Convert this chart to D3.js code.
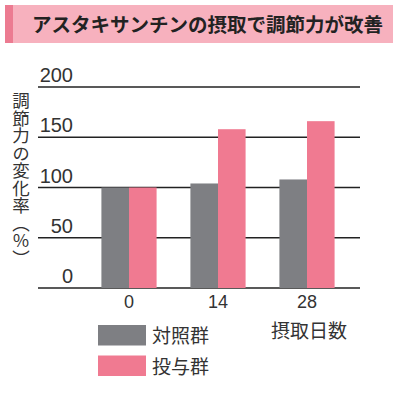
<!DOCTYPE html>
<html>
<head>
<meta charset="utf-8">
<script src="https://cdn.jsdelivr.net/npm/d3@7"></script>
<style>
  body { margin: 0; background: #fff; }
  svg { display: block; }
</style>
</head>
<body>
<svg id="chart"></svg>
<script>
const days = ["0", "14", "28"];
const controlValues = [100, 104, 108];
const treatedValues = [100, 158, 166];
const yTicks = [0, 50, 100, 150, 200];
const seriesNames = ["対照群", "投与群"];
const colors = ["#7e7f83", "#f07a91"];

const svg = d3.select("#chart")
  .attr("width", 400)
  .attr("height", 398);

const font = "'Liberation Sans', 'Noto Sans CJK JP', sans-serif";

// title band
svg.append("rect")
  .attr("x", 5).attr("y", 5)
  .attr("width", 388).attr("height", 38)
  .attr("fill", "#f7b1be");
svg.append("rect")
  .attr("x", 5).attr("y", 5)
  .attr("width", 8).attr("height", 38)
  .attr("fill", "#ec7b91");
svg.append("text")
  .attr("x", 32).attr("y", 32)
  .attr("font-family", "'Noto Sans CJK JP', sans-serif")
  .attr("font-weight", "bold")
  .attr("font-size", "19.5px")
  .attr("fill", "#222")
  .text("アスタキサンチンの摂取で調節力が改善");

const left = 38, right = 360;

const y = d3.scaleLinear()
  .domain([0, 200])
  .range([288, 87]);

const x = d3.scaleBand()
  .domain(days)
  .range([84.5, 351.5])
  .paddingInner(0.38)
  .paddingOuter(0.19);

const sub = d3.scaleBand()
  .domain([0, 1])
  .range([0, x.bandwidth()]);

// gridlines + y labels
const grid = svg.append("g");
grid.selectAll("line")
  .data(yTicks)
  .enter().append("line")
  .attr("x1", left).attr("x2", right)
  .attr("y1", d => y(d)).attr("y2", d => y(d))
  .attr("stroke", "#222")
  .attr("stroke-width", 1.5);
grid.selectAll("text")
  .data(yTicks)
  .enter().append("text")
  .attr("x", 73)
  .attr("y", d => y(d) - 5)
  .attr("text-anchor", "end")
  .attr("font-family", font)
  .attr("font-size", "20px")
  .attr("fill", "#333")
  .text(d => d);

// bars
const groups = svg.append("g").selectAll("g")
  .data(days)
  .enter().append("g")
  .attr("transform", d => `translate(${x(d)},0)`);

groups.selectAll("rect")
  .data((d, i) => [controlValues[i], treatedValues[i]])
  .enter().append("rect")
  .attr("x", (d, j) => sub(j))
  .attr("y", d => y(d))
  .attr("width", sub.bandwidth())
  .attr("height", d => y(0) - y(d))
  .attr("fill", (d, j) => colors[j]);

// x labels
svg.append("g").selectAll("text")
  .data(days)
  .enter().append("text")
  .attr("x", d => x(d) + x.bandwidth() / 2)
  .attr("y", 308)
  .attr("text-anchor", "middle")
  .attr("font-family", font)
  .attr("font-size", "18px")
  .attr("fill", "#333")
  .text(d => d);

svg.append("text")
  .attr("x", 309).attr("y", 338)
  .attr("text-anchor", "middle")
  .attr("font-family", "'Noto Sans CJK JP', sans-serif")
  .attr("font-size", "19px")
  .attr("fill", "#333")
  .text("摂取日数");

// y axis title (vertical)
svg.append("text")
  .attr("x", 21).attr("y", 92)
  .attr("font-family", "'Noto Sans CJK JP', sans-serif")
  .attr("font-size", "17.5px")
  .attr("fill", "#333")
  .style("writing-mode", "vertical-rl")
  .text("調節力の変化率（％）");

// legend
const legend = svg.append("g").selectAll("g")
  .data(seriesNames)
  .enter().append("g")
  .attr("transform", (d, i) => `translate(98,${325 + i * 30.5})`);
legend.append("rect")
  .attr("width", 48).attr("height", 20.5)
  .attr("fill", (d, i) => colors[i]);
legend.append("text")
  .attr("x", 54).attr("y", 18)
  .attr("font-family", "'Noto Sans CJK JP', sans-serif")
  .attr("font-size", "19px")
  .attr("fill", "#333")
  .text(d => d);
</script>
</body>
</html>
